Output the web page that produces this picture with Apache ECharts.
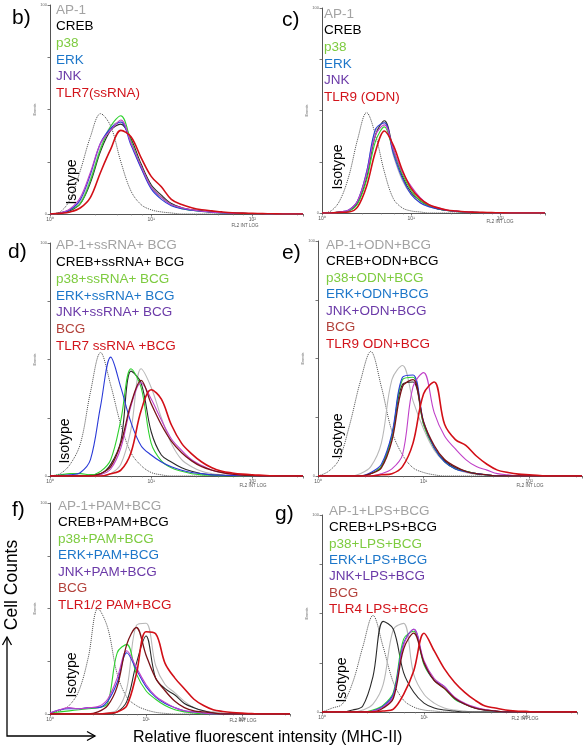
<!DOCTYPE html>
<html><head><meta charset="utf-8">
<script src="https://cdn.jsdelivr.net/npm/echarts@6/dist/echarts.min.js"></script>
<style>html,body{margin:0;padding:0;background:#fff}#c{width:585px;height:750px}</style>
</head><body><div id="c"></div>
<script>
// ---------- DATA ----------
// bin centres of the histograms (fluorescence intensity, log-spaced)
const intensity = [1,1.26,1.58,2.0,2.51,3.16,3.98,5.01,6.31,7.94,10,12.6,15.8,20.0,25.1,31.6,39.8,50.1,63.1,79.4,100,126,158,200,251,316];
const xTickLabels = ['10\u2070','10\u00b9','10\u00b2'];
const axisTitleX = 'FL2 INT LOG';
const axisTitleY = 'Events';

// panel b
const bLabels = ['AP-1','CREB','p38','ERK','JNK','TLR7(ssRNA)'];
const bIso  = [0,1,7,21,37,48,42,25,11,4.5,2,1,0.5,0,0,0,0,0,0,0,0,0,0,0,0,0];
const bAP1  = [0,0.5,2,6,17,32,42,44,34,22,13,8,5,3,2,1.5,1,0.7,0.5,0.3,0.2,0.1,0.1,0,0,0];
const bCREB = [0,0.5,1.5,5,15,30,40,43,36,24,14,9,5,3,2,1.5,1,0.7,0.5,0.3,0.2,0.1,0.1,0,0,0];
const bP38  = [0,0.5,2,5,16,31,42,47,35,23,13,8,4.5,2.5,1.8,1.2,0.8,0.5,0.4,0.3,0.2,0.1,0,0,0,0];
const bERK  = [0,0.5,2,7,19,34,41,44,33,22,12,7,4,2.5,1.8,1.2,0.8,0.5,0.4,0.3,0.2,0.1,0,0,0,0];
const bJNK  = [0,0.5,2.5,8,20,34,40,45,34,23,13,8,4.5,3,2,1.3,0.9,0.6,0.4,0.3,0.2,0.1,0,0,0,0];
const bTLR  = [0,0.3,1,3,8,20,31,40,37,27,18,13,7,4.5,3,2,1.5,1,0.6,0.4,0.3,0.2,0.1,0,0,0];

// panel c
const cLabels = ['AP-1','CREB','p38','ERK','JNK','TLR9 (ODN)'];
const cIso  = [0,1,6,18,36,49,38,20,7,2.5,1,0.5,0,0,0,0,0,0,0,0,0,0,0,0,0,0];
const cAP1  = [0,0,0.5,1.5,6,20,40,44,28,16,9,5,3,1.8,1.2,0.8,0.5,0.3,0.2,0.1,0,0,0,0,0,0];
const cCREB = [0,0,0.5,1,5,17,38,45,31,18,10,6,3.5,2,1.2,0.8,0.5,0.3,0.2,0.1,0,0,0,0,0,0];
const cP38  = [0,0,0.5,1,4.5,16,35,42,30,19,11,6,3.5,2,1.2,0.8,0.5,0.3,0.2,0.1,0,0,0,0,0,0];
const cERK  = [0,0,0.5,1.5,6,20,41,44,29,17,9,5,3,2,1.2,0.8,0.5,0.3,0.2,0.1,0,0,0,0,0,0];
const cJNK  = [0,0,0.5,1.5,6,19,38,43,31,20,13,7.5,4,2.5,1.5,1,0.6,0.4,0.2,0.1,0,0,0,0,0,0];
const cTLR  = [0,0,0.3,0.5,3,13,30,40,33,21,12,7,4,2.5,1.5,1,0.6,0.4,0.3,0.2,0.1,0,0,0,0,0];

// panel d
const dLabels = ['AP-1+ssRNA+ BCG','CREB+ssRNA+ BCG','p38+ssRNA+ BCG','ERK+ssRNA+ BCG','JNK+ssRNA+ BCG','BCG','TLR7 ssRNA +BCG'];
const dIso  = [0,1,5,14,36,53,39,22,10,4.5,1.5,0.5,0,0,0,0,0,0,0,0,0,0,0,0,0,0];
const dAP1  = [0,0,0,0,0,0,1,5,20,46,38,25,14,7,4,2,1,0.5,0.3,0,0,0,0,0,0,0];
const dCREB = [0,0,0,0,0.5,1,5,15,45,40,19,9,6,3.5,2,1,0.5,0.3,0,0,0,0,0,0,0,0];
const dP38  = [0,0.5,1,1,0.5,2,7,24,46,38,14,6.5,3.5,2,1,0.5,0.3,0,0,0,0,0,0,0,0,0];
const dERK  = [0,0.3,0.5,1.5,7,30,51,38,23,13,9,6,4,2.5,1.5,1,0.5,0.3,0.2,0.1,0,0,0,0,0,0];
const dJNK  = [0,0,0,0,0,0.5,3,12,30,40,33,24,16,11,7,4.5,2.5,1.5,0.8,0.4,0.2,0,0,0,0,0];
const dBCG  = [0,0,0,0,0,1,4,14,31,41,31,22,15,10,6.5,4,2.5,1.5,0.8,0.4,0.2,0,0,0,0,0];
const dTLR  = [0,0,0,0,0,0,1,2.5,10,28,37,33,22,14,9.5,6,3.5,2,1.3,0.8,0.5,0.3,0.1,0,0,0];

// panel e
const eLabels = ['AP-1+ODN+BCG','CREB+ODN+BCG','p38+ODN+BCG','ERK+ODN+BCG','JNK+ODN+BCG','BCG','TLR9 ODN+BCG'];
const eIso  = [0,2,7,22,40,53,38,19,9,3.5,1.5,0.5,0,0,0,0,0,0,0,0,0,0,0,0,0,0];
const eAP1  = [0,0,0,0,1,4,14,41,47,32,20,11,6,3,1.5,0.7,0.3,0,0,0,0,0,0,0,0,0];
const eCREB = [0,0,0,0,0,1,4,17,39,40,22,12,6.5,3.5,2,1,0.5,0,0,0,0,0,0,0,0,0];
const eP38  = [0,0,0,0,0,1,4,17,41,42,22,12,6,3,2,1,0.5,0,0,0,0,0,0,0,0,0];
const eERK  = [0,0,0,0,0,1.5,5,18,42,43,23,12,6,3,1.8,1,0.5,0,0,0,0,0,0,0,0,0];
const eJNK  = [0,0,0,0,0,0,1,3,9,38,44,27,17,11.5,7,4,2.5,1,0.5,0,0,0,0,0,0,0];
const eBCG  = [0,0,0,0,0,1,3.5,15,38,41,23,13,7,4,2,1,0.5,0,0,0,0,0,0,0,0,0];
const eTLR  = [0,0,0,0,0,0,0.5,1,4,14,35,40,22,15.5,13,8.5,5,2.5,1.5,0.8,0.5,0.2,0,0,0,0];

// panel f
const fLabels = ['AP-1+PAM+BCG','CREB+PAM+BCG','p38+PAM+BCG','ERK+PAM+BCG','JNK+PAM+BCG','BCG','TLR1/2 PAM+BCG'];
const fIso  = [0.5,1.5,4,11,27,50,41,19,8,4,2,0.8,0.3,0,0,0,0,0,0,0,0,0,0,0,0,0];
const fAP1  = [0,0,0,0,0,0,0.5,2,12,42,43,23,14,10,6,3,1.5,1,0.5,0,0,0,0,0,0,0];
const fCREB = [0,0,0,0,0,0,0,1,6,24,37,17,12,9,5,3,1.5,0.5,0,0,0,0,0,0,0,0];
const fP38  = [0.5,1,1.5,2,2.5,3,5,29,33,19,11,7,4,2,1,0.5,0,0,0,0,0,0,0,0,0,0];
const fERK  = [0.5,2,2.5,2.5,3,3,6,15,29,21,13,8,5,3,1.5,1,0.5,0,0,0,0,0,0,0,0,0];
const fJNK  = [0.5,2,3,2.5,3,3.5,7,17,30,22,14,8.5,5.5,3,1.5,1,0.5,0,0,0,0,0,0,0,0,0];
const fBCG  = [0,0,0,0,0,1,4,13,33,41,28,17,11,6,3,1.5,1,0.5,0,0,0,0,0,0,0,0];
const fTLR  = [0,0,0,0,0,0,0.3,1,4,19,39,38,24,17,12,7,4,2,1.2,0.7,0.4,0.2,0,0,0,0];

// panel g
const gLabels = ['AP-1+LPS+BCG','CREB+LPS+BCG','p38+LPS+BCG','ERK+LPS+BCG','JNK+LPS+BCG','BCG','TLR4 LPS+BCG'];
const gIso  = [0,2,4,15,33,49,33,15,6,2.5,1,0.5,0,0,0,0,0,0,0,0,0,0,0,0,0,0];
const gAP1  = [0,0,0,0,1,4,14,42,45,19,9,4.5,2,1,0.5,0,0,0,0,0,0,0,0,0,0,0];
const gCREB = [0,0,0,1,3,18,46,42,20,10,4.5,2,1,0.5,0,0,0,0,0,0,0,0,0,0,0,0];
const gP38  = [0,0,0,0,0,1,3.5,10,37,41,24,16,12,6.5,4,2,1,0.5,0,0,0,0,0,0,0,0];
const gERK  = [0,0,0,0,0,0.5,3,9,35,42,25,16,13,7,4,2,1,0.5,0,0,0,0,0,0,0,0];
const gJNK  = [0,0,0,0,0,0.5,2.5,8,34,42,26,17,13,7.5,4.5,2.5,1.2,0.5,0,0,0,0,0,0,0,0];
const gBCG  = [0,0,0,0,0,0,2,7,32,40,25,16,12,7,4,2,1,0.5,0,0,0,0,0,0,0,0];
const gTLR  = [0,0,0,0,0,0,0.5,1.5,9,21,40,31,22,15,10,6,3,2,1,0.5,0.3,0,0,0,0,0];

const isoLabel = 'Isotype';
const yLabel = 'Cell Counts';
const xLabel = 'Relative fluorescent intensity (MHC-II)';

// ---------- STYLE / LAYOUT ----------
const lineStyleOf = {
  iso:  {color:'#4a4a4a', width:1, type:'dotted'},
  ap1:  {color:'#b8b8b8', width:1.1},
  creb: {color:'#2a2a2a', width:1.1},
  p38:  {color:'#2ed12e', width:1.1},
  erk:  {color:'#2a3ad8', width:1.1},
  jnk:  {color:'#c040c8', width:1.1},
  bcg:  {color:'#7a1218', width:1.3},
  tlr:  {color:'#d20f17', width:1.6}
};
const textColorOf = {ap1:'#a3a3a3', creb:'#000000', p38:'#7dcb3f', erk:'#1c76c9', jnk:'#6b3aa8', bcg:'#b2403a', tlr:'#d2141b'};

const panels = [
  {letter:'b)', letterPos:[12,18], grid:{left:50,top:5,width:253,height:209}, legend:[56,10,16.6], iso:[72,182], fl2:[245,226],
   labels:bLabels, keys:['ap1','creb','p38','erk','jnk','tlr'],
   series:{iso:bIso, ap1:bAP1, creb:bCREB, p38:bP38, erk:bERK, jnk:bJNK, tlr:bTLR}},
  {letter:'c)', letterPos:[282,20], grid:{left:322,top:8,width:223,height:205}, legend:[324,14,16.6], iso:[338,167], fl2:[500,222],
   labels:cLabels, keys:['ap1','creb','p38','erk','jnk','tlr'],
   series:{iso:cIso, ap1:cAP1, creb:cCREB, p38:cP38, erk:cERK, jnk:cJNK, tlr:cTLR}},
  {letter:'d)', letterPos:[8,252], grid:{left:50,top:243,width:253,height:233}, legend:[56,245.7,16.7], iso:[65,441], fl2:[253,486],
   labels:dLabels, keys:['ap1','creb','p38','erk','jnk','bcg','tlr'],
   series:{iso:dIso, ap1:dAP1, creb:dCREB, p38:dP38, erk:dERK, jnk:dJNK, bcg:dBCG, tlr:dTLR}},
  {letter:'e)', letterPos:[282,253], grid:{left:318,top:241,width:264,height:235}, legend:[326,245,16.5], iso:[338,436], fl2:[530,486],
   labels:eLabels, keys:['ap1','creb','p38','erk','jnk','bcg','tlr'],
   series:{iso:eIso, ap1:eAP1, creb:eCREB, p38:eP38, erk:eERK, jnk:eJNK, bcg:eBCG, tlr:eTLR}},
  {letter:'f)', letterPos:[12,510], grid:{left:50,top:503,width:240,height:211}, legend:[58,506,16.5], iso:[72,675], fl2:[243,721],
   labels:fLabels, keys:['ap1','creb','p38','erk','jnk','bcg','tlr'],
   series:{iso:fIso, ap1:fAP1, creb:fCREB, p38:fP38, erk:fERK, jnk:fJNK, bcg:fBCG, tlr:fTLR}},
  {letter:'g)', letterPos:[275,514], grid:{left:322,top:515,width:255,height:197}, legend:[329,511,16.4], iso:[342,680], fl2:[525,719],
   labels:gLabels, keys:['ap1','creb','p38','erk','jnk','bcg','tlr'],
   series:{iso:gIso, ap1:gAP1, creb:gCREB, p38:gP38, erk:gERK, jnk:gJNK, bcg:gBCG, tlr:gTLR}}
];

const FONT = '"Liberation Sans", Arial, Helvetica, sans-serif';
const grids = [], xAxes = [], yAxes = [], series = [], graphic = [];
const drawOrder = ['iso','ap1','creb','p38','erk','jnk','bcg','tlr'];

panels.forEach((p, i) => {
  grids.push(Object.assign({containLabel:false}, p.grid));
  xAxes.push({
    type:'log', logBase:10, min:1, max:316.2, gridIndex:i,
    axisLine:{show:true, onZero:false, lineStyle:{color:'#555', width:1}},
    axisTick:{show:true, length:2.5, lineStyle:{color:'#555', width:0.8}},
    minorTick:{show:true, splitNumber:5, length:1.5, lineStyle:{color:'#777', width:0.6}},
    splitLine:{show:false}, minorSplitLine:{show:false},
    axisLabel:{fontSize:5, color:'#555', margin:3, fontFamily:FONT, showMaxLabel:false,
      formatter:v => { const k = Math.round(Math.log10(v)); return (Math.abs(Math.log10(v)-k) < 1e-6 && xTickLabels[k]) ? xTickLabels[k] : ''; }}
  });
  yAxes.push({
    type:'value', min:0, max:100, interval:25, gridIndex:i,
    name:axisTitleY, nameLocation:'middle', nameGap:11, nameRotate:90,
    nameTextStyle:{fontSize:4, color:'#666', fontFamily:FONT},
    axisLine:{show:true, lineStyle:{color:'#555', width:1}},
    axisTick:{show:true, length:2.5, lineStyle:{color:'#555', width:0.8}},
    splitLine:{show:false},
    axisLabel:{fontSize:4, color:'#666', margin:3, fontFamily:FONT, formatter:v => (v===0||v===100) ? String(v) : ''}
  });
  drawOrder.forEach(k => {
    const arr = p.series[k];
    if (!arr) return;
    series.push({
      type:'line', xAxisIndex:i, yAxisIndex:i, name:k,
      data:intensity.map((x, j) => [x, arr[j]]),
      showSymbol:false, symbol:'none', smooth:0.35, silent:true,
      lineStyle:lineStyleOf[k], z: k==='tlr' ? 5 : 3
    });
  });
  // legend texts
  p.labels.forEach((t, j) => {
    graphic.push({type:'text', silent:true, style:{text:t, x:p.legend[0], y:p.legend[1] + j*p.legend[2],
      fill:textColorOf[p.keys[j]], font:'13.5px ' + FONT, textVerticalAlign:'middle'}});
  });
  graphic.push({type:'text', silent:true, style:{text:p.letter, x:p.letterPos[0], y:p.letterPos[1], fill:'#000',
    font:'21px ' + FONT, textVerticalAlign:'middle'}});
  graphic.push({type:'text', silent:true, x:p.iso[0], y:p.iso[1], rotation:Math.PI/2,
    style:{text:isoLabel, x:0, y:0, fill:'#000', font:'14px ' + FONT, textAlign:'center', textVerticalAlign:'middle'}});
  graphic.push({type:'text', silent:true, style:{text:axisTitleX, x:p.fl2[0], y:p.fl2[1], fill:'#555',
    font:'4.5px ' + FONT, textAlign:'center', textVerticalAlign:'middle'}});
});

// global axis titles and arrows
graphic.push({type:'text', silent:true, x:12, y:585, rotation:Math.PI/2,
  style:{text:yLabel, x:0, y:0, fill:'#000', font:'17.5px ' + FONT, textAlign:'center', textVerticalAlign:'middle'}});
graphic.push({type:'text', silent:true, style:{text:xLabel, x:133, y:738, fill:'#000', font:'16px ' + FONT, textVerticalAlign:'middle'}});
graphic.push({type:'polyline', silent:true, shape:{points:[[7,637],[7,736],[95,736]]}, style:{stroke:'#000', lineWidth:1.3, fill:null}});
graphic.push({type:'polyline', silent:true, shape:{points:[[2.5,645],[7,637],[11.5,645]]}, style:{stroke:'#000', lineWidth:1.3, fill:null}});
graphic.push({type:'polyline', silent:true, shape:{points:[[87,731.5],[95,736],[87,740.5]]}, style:{stroke:'#000', lineWidth:1.3, fill:null}});

const chart = echarts.init(document.getElementById('c'), null, {renderer:'canvas'});
chart.setOption({
  animation:false, backgroundColor:'#fff',
  grid:grids, xAxis:xAxes, yAxis:yAxes, series:series, graphic:graphic
});
</script>
</body></html>
